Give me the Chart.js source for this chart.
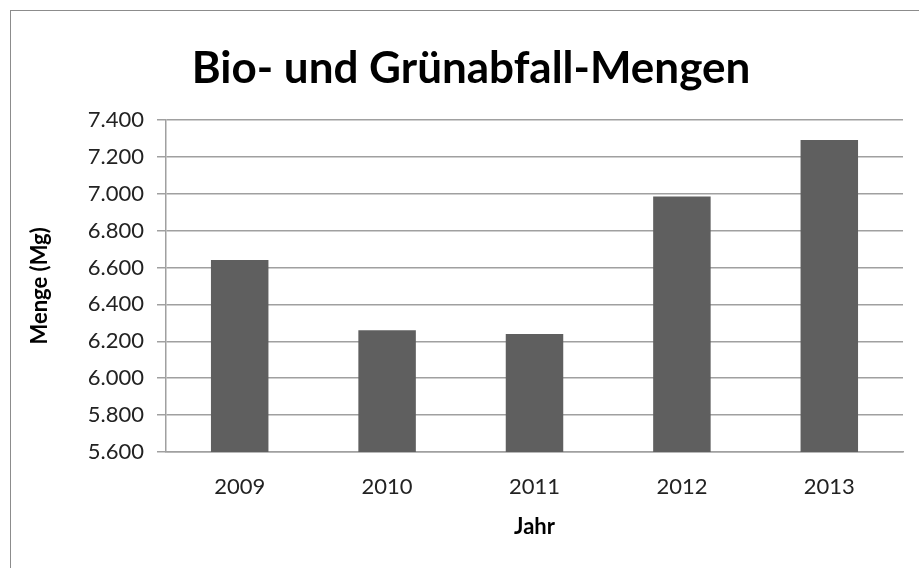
<!DOCTYPE html>
<html lang="de">

<head>
    <meta charset="UTF-8">
    <title>Bio- und Grünabfall-Mengen</title>
    <script src="https://cdn.jsdelivr.net/npm/chart.js@4.4.1/dist/chart.umd.min.js"></script>
    <style>
        body {
            margin: 0;
            background: #fff;
            overflow: hidden;
        }

        #frame {
            position: absolute;
            left: 10px;
            top: 10px;
            width: 930px;
            height: 580px;
            border: 1px solid #8c8c8c;
        }

        #box {
            position: relative;
            width: 920px;
            height: 557px;
        }
    </style>
</head>

<body>
    <div id="frame">
        <div id="box"><canvas id="chart"></canvas></div>
    </div>

    <script>
        const years = ['2009', '2010', '2011', '2012', '2013'];
        const mengen = [6640, 6260, 6240, 6985, 7290];
        const yMin = 5600;
        const yMax = 7400;
        const yStep = 200;

        // 7400 -> "7.400"
        function punkt(v) {
            return String(Math.round(v)).replace(/\B(?=(\d{3})+(?!\d))/g, '.');
        }

        const ctx = document.getElementById('chart').getContext('2d');
        const myChart = new Chart(ctx, {
            type: 'bar',
            data: {
                labels: years,
                datasets: [{
                    label: 'Menge (Mg)',
                    data: mengen,
                    backgroundColor: '#5f5f5f',
                    borderWidth: 0,
                    barPercentage: 0.39,
                    categoryPercentage: 1
                }]
            },
            options: {
                responsive: true,
                maintainAspectRatio: false,
                animation: false,
                // same padding on both sides so the title stays centred on the frame
                layout: {
                    padding: { left: 28, right: 28, top: 0, bottom: 0 }
                },
                plugins: {
                    legend: { display: false },
                    tooltip: { enabled: false },
                    title: {
                        display: true,
                        text: 'Bio- und Grünabfall-Mengen',
                        color: '#000',
                        font: { family: 'Lato', size: 44, weight: 'bold', lineHeight: 1.2 },
                        padding: { top: 31, bottom: 25 }
                    }
                },
                scales: {
                    x: {
                        grid: { display: false, drawTicks: false },
                        border: { display: true, color: '#a0a0a0', width: 1.5 },
                        ticks: {
                            color: '#222',
                            padding: 22,
                            font: { family: 'Lato', size: 22 }
                        },
                        title: {
                            display: true,
                            text: 'Jahr',
                            color: '#000',
                            font: { family: 'Lato', size: 22, weight: 'bold', lineHeight: 1.2 },
                            padding: { top: 0, bottom: 28 }
                        },
                        afterFit: function (scale) {
                            scale.height = 116;
                        }
                    },
                    y: {
                        min: yMin,
                        max: yMax,
                        ticks: {
                            stepSize: yStep,
                            color: '#222',
                            padding: 13,
                            font: { family: 'Lato', size: 22 },
                            callback: function (value) {
                                return punkt(value);
                            }
                        },
                        grid: {
                            color: '#a0a0a0',
                            lineWidth: 1.5,
                            tickLength: 9
                        },
                        border: { display: true, color: '#a0a0a0', width: 1.5 },
                        title: {
                            display: true,
                            text: 'Menge (Mg)',
                            color: '#000',
                            font: { family: 'Lato', size: 22, weight: 'bold', lineHeight: 1.2 },
                            padding: { top: -12, bottom: 0 }
                        },
                        afterFit: function (scale) {
                            scale.width = 127;
                        }
                    }
                }
            }
        });
    </script>

</body>

</html>
